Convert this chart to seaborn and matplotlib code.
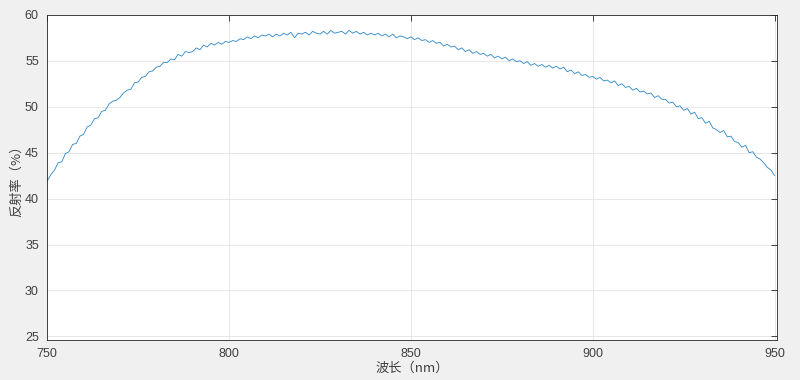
import numpy as np
import pandas as pd
import matplotlib
matplotlib.use('Agg')
import matplotlib.pyplot as plt
import seaborn as sns

# wavelength grid (nm) and reflectance values
wavelength = list(range(750, 951))
reflectance = [
    41.9, 42.6, 43.1, 43.9, 44.0, 44.9, 45.1, 45.9, 46.0, 46.8,
    47.0, 47.8, 48.0, 48.7, 48.8, 49.5, 49.6, 50.3, 50.6, 50.7,
    51.0, 51.5, 51.8, 51.9, 52.6, 52.7, 53.2, 53.3, 53.8, 53.9,
    54.3, 54.4, 54.8, 54.8, 55.2, 55.1, 55.7, 55.5, 56.0, 55.9,
    56.0, 56.4, 56.2, 56.7, 56.5, 56.9, 56.7, 57.0, 56.8, 57.1,
    57.0, 57.2, 57.1, 57.4, 57.3, 57.6, 57.4, 57.7, 57.5, 57.8,
    57.7, 57.9, 57.6, 57.9, 57.7, 58.0, 57.8, 58.1, 57.5, 58.0,
    57.9, 58.1, 57.8, 58.2, 58.0, 57.9, 58.2, 57.9, 58.3, 58.0,
    58.1, 58.2, 57.9, 58.3, 58.0, 58.2, 57.9, 58.1, 57.8, 58.0,
    57.8, 58.0, 57.7, 57.9, 57.6, 57.9, 57.5, 57.7, 57.6, 57.4,
    57.6, 57.3, 57.5, 57.2, 57.3, 57.0, 57.2, 56.9, 57.0, 56.6,
    56.8, 56.5, 56.6, 56.2, 56.4, 56.0, 56.2, 55.8, 56.0, 55.7,
    55.8, 55.5, 55.7, 55.3, 55.5, 55.2, 55.4, 55.0, 55.2, 54.9,
    55.0, 54.7, 54.9, 54.5, 54.7, 54.4, 54.6, 54.3, 54.5, 54.2,
    54.4, 54.1, 54.3, 53.8, 54.0, 53.6, 53.8, 53.4, 53.5, 53.2,
    53.3, 53.0, 53.2, 52.8, 52.9, 52.6, 52.8, 52.3, 52.5, 52.1,
    52.2, 51.8, 52.0, 51.6, 51.7, 51.4, 51.5, 51.0, 51.2, 50.8,
    50.8, 50.4, 50.5, 50.0, 50.1, 49.6, 49.8, 49.2, 49.4, 48.7,
    48.8, 48.2, 48.4, 47.7, 47.5, 47.2, 47.4, 46.7, 46.8, 46.2,
    46.1, 45.6, 45.8, 45.0, 45.1, 44.5, 44.3, 43.9, 43.4, 43.1, 42.5,
]
x_ticks = [750, 800, 850, 900, 950]
y_ticks = [25, 30, 35, 40, 45, 50, 55, 60]

df = pd.DataFrame({'wl': wavelength, 'r': reflectance})

sns.set_theme(style='white')
plt.rcParams['font.family'] = ['Liberation Sans', 'Noto Sans CJK SC', 'DejaVu Sans']
axc = '#262626'

fig = plt.figure(figsize=(8, 3.8), dpi=100, facecolor='#f0f0f0')
ax = fig.add_axes([0.059, 0.105, 0.912, 0.856])
ax.set_facecolor('white')

sns.lineplot(data=df, x='wl', y='r', ax=ax, color='#2b86c8', linewidth=0.6)

ax.set_xlim(750, 950.6)
ax.set_ylim(24.6, 60)
ax.set_xticks(x_ticks)
ax.set_yticks(y_ticks)
ax.grid(True, color='#e3e3e3', linewidth=0.6)
ax.tick_params(direction='in', length=4, width=0.6, colors=axc, labelsize=9,
               top=True, right=True, labelcolor='#404040', pad=6)
for s in ax.spines.values():
    s.set_color(axc)
    s.set_linewidth(0.6)

ax.set_xlabel('波长（nm）', family=['Noto Sans CJK SC'], fontsize=9.5, color='#404040', labelpad=1)
ax.set_ylabel('反射率（%）', family=['Noto Sans CJK SC'], fontsize=9.5, color='#404040', labelpad=1)

fig.savefig('out.png', dpi=100, facecolor=fig.get_facecolor())
